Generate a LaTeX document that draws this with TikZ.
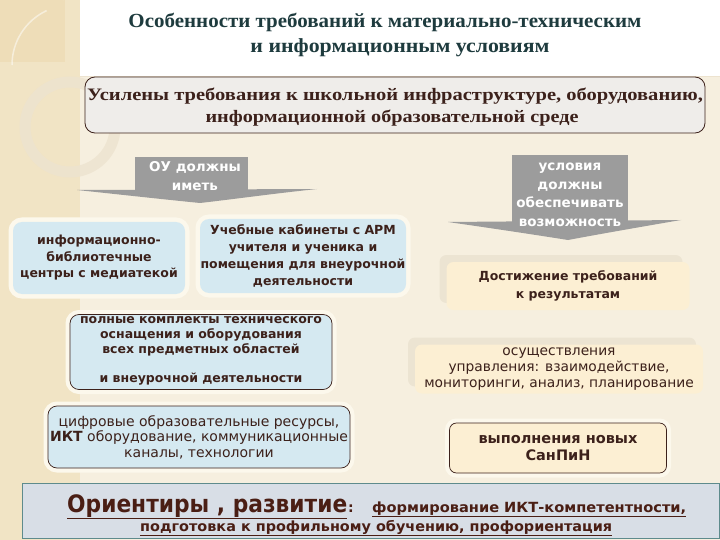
\documentclass[tikz,border=0pt]{standalone}
\usepackage{fontspec}
\usepackage{graphicx}
\setmainfont{Liberation Serif}
\newfontfamily\sansf{DejaVu Sans}
\usetikzlibrary{shadows}
\definecolor{bgc}{HTML}{F6EFDF}
\definecolor{stripc}{HTML}{F1E4C5}
\definecolor{cornc}{HTML}{EEDDB8}
\definecolor{ringc}{HTML}{EDE3CF}
\definecolor{titlec}{HTML}{1E3B3E}
\definecolor{brownc}{HTML}{3C211B}
\definecolor{box1c}{HTML}{EFEDEA}
\definecolor{bluec}{HTML}{D5E9F1}
\definecolor{creamc}{HTML}{FCEFD3}
\definecolor{shadc}{HTML}{ECE4D2}
\definecolor{grayc}{HTML}{9C9C9C}
\definecolor{bandc}{HTML}{D8DEE6}
\definecolor{bandline}{HTML}{5E8B8C}
\definecolor{glowc}{HTML}{FCF8EC}
\definecolor{bandtext}{HTML}{4A1E14}
\newcommand{\fitw}[2]{\resizebox{#1}{\height}{#2}}
\begin{document}
\begin{tikzpicture}[x=1pt,y=-1pt,
  titletext/.style={text=titlec, font=\bfseries\fontsize{20}{24}\selectfont, inner sep=0pt},
  reqbox/.style={fill=box1c, draw=brownc, line width=0.8pt, rounded corners=10pt, inner sep=0pt},
  reqtext/.style={text=brownc, font=\bfseries\fontsize{17.5}{20}\selectfont, inner sep=0pt},
  glow/.style={preaction={draw=glowc, line width=9pt}},
  bluebox/.style={fill=bluec, rounded corners=9pt, inner sep=0pt, text=brownc, align=center, glow},
  creambox/.style={fill=creamc, rounded corners=7pt, inner sep=0pt, text=brownc, align=center},
  shadowed/.style={general shadow={fill=shadc, shadow xshift=-7pt, shadow yshift=7pt}},
  bordered/.style={draw=brownc, line width=0.7pt},
  boldsans/.style={font=\sansf\bfseries\fontsize{12.5}{#1}\selectfont},
  regsans/.style={font=\sansf\fontsize{14}{#1}\selectfont},
  arrowtext/.style={text=white, font=\sansf\bfseries\fontsize{13.5}{19}\selectfont, align=center, inner sep=0pt},
  bandtextstyle/.style={text=bandtext, inner sep=0pt}
]
\useasboundingbox (0,0) rectangle (720,540);
% background
\fill[bgc] (0,0) rectangle (720,540);
\fill[white] (80,0) rectangle (720,76);
\draw[line width=0.6pt, color=ringc] (80,76.5) -- (720,76.5);
\fill[stripc] (0,0) rectangle (80,540);
\fill[cornc] (0,0) rectangle (65,62);
\draw[color=white, opacity=0.6, line width=1.5pt] (64,0) arc[start angle=0, end angle=-80, radius=64];
\draw[color=white, opacity=0.5, line width=1.5pt] (12,65) arc[start angle=180, end angle=245, radius=60];
\draw[color=ringc, line width=11pt, opacity=0.8] (70,127) circle (45);

% title
\node[titletext] (t1) at (385,22) {\fitw{513pt}{Особенности требований к материально-техническим}};
\node[titletext] (t2) at (400,48) {\fitw{299pt}{и информационным условиям}};

% requirement box
\node[reqbox, minimum width=620pt, minimum height=56pt] (req) at (395,105) {};
\node[reqtext] (r1) at (395,96) {\fitw{616pt}{Усилены требования к школьной инфраструктуре, оборудованию,}};
\node[reqtext] (r2) at (392,118) {\fitw{373pt}{информационной образовательной среде}};

% gray arrow left
\fill[grayc] (135,157) rectangle (248,191);
\fill[grayc] (77,190) -- (317,189) .. controls (270,194) and (235,199) .. (200,203)
   .. controls (160,199) and (115,194) .. (77,190) -- cycle;
\node[arrowtext] (oy) at (195,176) {ОУ должны\\иметь};

% gray arrow right
\fill[grayc] (512,155) rectangle (628,222);
\fill[grayc] (448,222) -- (681,220) .. controls (640,227) and (600,234) .. (568,240)
   .. controls (530,234) and (490,228) .. (448,222) -- cycle;
\node[arrowtext, font=\sansf\bfseries\fontsize{13.5}{18.6}\selectfont] (cond) at (570,195) {условия\\должны\\обеспечивать\\возможность};

% left boxes
\node[bluebox, boldsans=16.5, minimum width=172pt, minimum height=72pt] (ibc) at (99,258) {информационно-\\библиотечные\\центры с медиатекой};
\node[bluebox, boldsans=17, minimum width=206pt, minimum height=74pt] (cab) at (303,256) {Учебные кабинеты с АРМ\\учителя и ученика и\\помещения для внеурочной\\деятельности};
\node[bluebox, bordered, boldsans=15, minimum width=262pt, minimum height=75pt] (kit) at (201,352) {};
\node[text=brownc, boldsans=15, align=center, inner sep=0pt, anchor=north] (kittext) at (201,316) {полные комплекты технического\\оснащения и оборудования\\всех предметных областей\\[14pt]и внеурочной деятельности};
\node[bluebox, bordered, regsans=15.5, minimum width=302pt, minimum height=62pt] (dig) at (199,437) {цифровые образовательные ресурсы,\\\textbf{ИКТ} оборудование, коммуникационные\\каналы, технологии};

% right boxes
\node[creambox, shadowed, boldsans=18, minimum width=243pt, minimum height=48pt] (ach) at (568,286) {Достижение требований\\к результатам};
\node[creambox, shadowed, font=\sansf\fontsize{13.8}{16}\selectfont, minimum width=288pt, minimum height=49pt] (man) at (559,369) {осуществления\\управления: взаимодействие,\\мониторинги, анализ, планирование};
\node[creambox, bordered, glow, font=\sansf\bfseries\fontsize{14.5}{17}\selectfont, minimum width=217pt, minimum height=50pt] (san) at (558,448) {выполнения новых\\СанПиН};

% bottom band
\node[fill=bandc, draw=bandline, line width=1pt, minimum width=697pt, minimum height=55pt, inner sep=0pt] (band) at (370.5,510.5) {};
\node[bandtextstyle, anchor=base west, font=\sansf\bfseries\fontsize{24}{26}\selectfont] (b1) at (67,512) {\fitw{280pt}{\underline{Ориентиры , развитие}}};
\node[bandtextstyle, anchor=base west, font=\sansf\bfseries\fontsize{14}{16}\selectfont] (b2) at (348,512) {:};
\node[bandtextstyle, anchor=base west, font=\sansf\bfseries\fontsize{14}{16}\selectfont] (b3) at (372,512) {\fitw{314pt}{\underline{формирование ИКТ-компетентности,}}};
\node[bandtextstyle, anchor=base west, font=\sansf\bfseries\fontsize{14}{16}\selectfont] (b4) at (140,531) {\fitw{472pt}{\underline{подготовка к профильному обучению, профориентация}}};
\end{tikzpicture}
\end{document}
